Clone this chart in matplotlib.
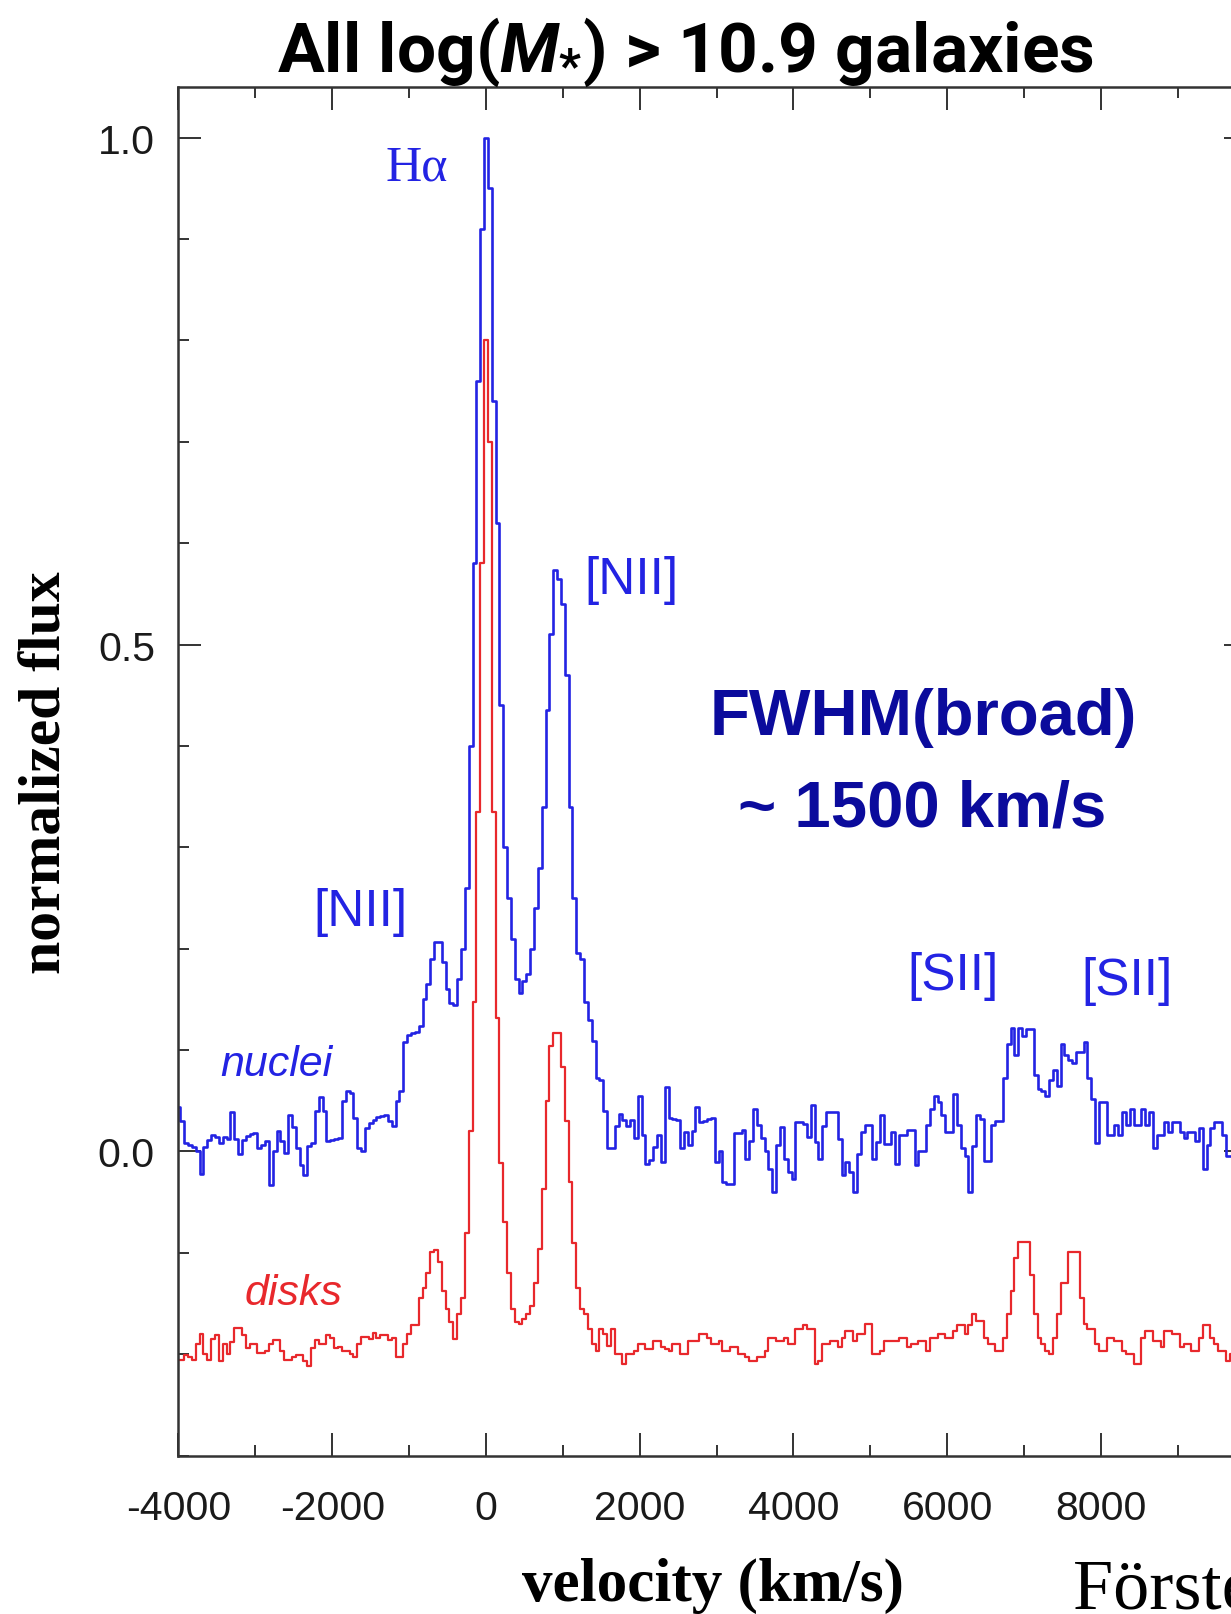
import numpy as np
import matplotlib.pyplot as plt
from matplotlib import font_manager
from matplotlib.ticker import MultipleLocator, FixedLocator, FormatStrFormatter

# stacked spectra, 50 km/s bins centred on -4000 ... 9900 km/s
velocity = np.arange(-4000, 9901, 50)

nuclei = np.array([
    0.044, 0.030, 0.008, 0.006, 0.004, 0.000, -0.022, 0.004, 0.011, 0.016,
    0.014, 0.008, 0.014, 0.012, 0.039, 0.012, -0.003, 0.011, 0.015, 0.017,
    0.018, 0.003, 0.006, 0.010, -0.033, 0.000, 0.020, 0.010, -0.002, 0.036,
    0.024, 0.003, -0.013, -0.023, 0.005, 0.008, 0.040, 0.054, 0.040, 0.010,
    0.011, 0.012, 0.013, 0.050, 0.060, 0.058, 0.033, 0.003, 0.000, 0.023,
    0.028, 0.031, 0.034, 0.035, 0.036, 0.030, 0.025, 0.050, 0.060, 0.108,
    0.115, 0.117, 0.118, 0.124, 0.150, 0.165, 0.190, 0.207, 0.207, 0.187,
    0.160, 0.146, 0.144, 0.170, 0.200, 0.260, 0.400, 0.580, 0.760, 0.910,
    1.000, 0.950, 0.740, 0.620, 0.440, 0.300, 0.250, 0.210, 0.170, 0.156,
    0.168, 0.175, 0.200, 0.240, 0.280, 0.340, 0.435, 0.510, 0.574, 0.565,
    0.540, 0.470, 0.340, 0.250, 0.196, 0.190, 0.147, 0.130, 0.109, 0.072,
    0.070, 0.040, 0.003, 0.003, 0.025, 0.037, 0.031, 0.025, 0.031, 0.013,
    0.055, 0.016, -0.012, -0.008, 0.004, 0.016, -0.010, 0.064, 0.033, 0.032,
    0.031, 0.003, 0.019, 0.006, 0.020, 0.044, 0.029, 0.030, 0.032, 0.033,
    -0.010, 0.000, -0.030, -0.032, -0.032, 0.018, 0.018, 0.021, -0.007, 0.010,
    0.042, 0.026, 0.013, 0.000, -0.017, -0.040, 0.006, 0.024, -0.007, -0.020,
    -0.027, 0.029, 0.029, 0.027, 0.014, 0.046, 0.009, -0.007, 0.025, 0.039,
    0.039, 0.039, 0.012, -0.023, -0.010, -0.020, -0.040, -0.003, 0.019, 0.026,
    0.026, -0.007, 0.009, 0.036, 0.007, 0.007, 0.019, -0.012, 0.016, 0.016,
    0.021, 0.021, -0.013, 0.000, 0.000, 0.026, 0.042, 0.055, 0.049, 0.036,
    0.019, 0.019, 0.057, 0.026, 0.003, -0.004, -0.040, 0.005, 0.036, 0.032,
    -0.009, -0.009, 0.026, 0.030, 0.030, 0.072, 0.106, 0.122, 0.095, 0.122,
    0.114, 0.121, 0.121, 0.075, 0.062, 0.060, 0.055, 0.070, 0.080, 0.065,
    0.106, 0.095, 0.090, 0.087, 0.098, 0.098, 0.108, 0.072, 0.052, 0.008,
    0.049, 0.049, 0.016, 0.016, 0.026, 0.016, 0.039, 0.026, 0.042, 0.026,
    0.026, 0.042, 0.026, 0.039, 0.003, 0.016, 0.016, 0.029, 0.019, 0.029,
    0.029, 0.019, 0.013, 0.019, 0.019, 0.010, 0.023, -0.017, 0.006, 0.023,
    0.029, 0.029, 0.016, -0.004, -0.004, 0.010, 0.020, 0.005, 0.000,
])

disks = np.array([
    -0.206, -0.206, -0.201, -0.203, -0.206, -0.190, -0.180, -0.200, -0.206, -0.185,
    -0.181, -0.207, -0.190, -0.200, -0.188, -0.174, -0.174, -0.181, -0.194, -0.190,
    -0.190, -0.199, -0.199, -0.197, -0.190, -0.186, -0.186, -0.197, -0.206, -0.206,
    -0.203, -0.201, -0.201, -0.207, -0.212, -0.194, -0.186, -0.190, -0.190, -0.181,
    -0.184, -0.194, -0.193, -0.197, -0.197, -0.200, -0.203, -0.190, -0.183, -0.183,
    -0.185, -0.179, -0.184, -0.181, -0.181, -0.186, -0.184, -0.203, -0.203, -0.190,
    -0.180, -0.171, -0.171, -0.145, -0.135, -0.120, -0.099, -0.097, -0.109, -0.138,
    -0.155, -0.168, -0.185, -0.160, -0.145, -0.080, 0.020, 0.147, 0.335, 0.580,
    0.800, 0.700, 0.335, 0.132, -0.011, -0.070, -0.120, -0.155, -0.168, -0.170,
    -0.165, -0.160, -0.152, -0.130, -0.096, -0.037, 0.050, 0.104, 0.117, 0.117,
    0.083, 0.030, -0.030, -0.090, -0.135, -0.155, -0.160, -0.175, -0.190, -0.197,
    -0.175, -0.180, -0.192, -0.175, -0.200, -0.200, -0.210, -0.200, -0.200, -0.197,
    -0.190, -0.190, -0.195, -0.195, -0.187, -0.187, -0.193, -0.195, -0.197, -0.190,
    -0.190, -0.200, -0.200, -0.187, -0.187, -0.187, -0.180, -0.180, -0.184, -0.190,
    -0.190, -0.187, -0.197, -0.197, -0.193, -0.193, -0.200, -0.200, -0.203, -0.207,
    -0.207, -0.203, -0.203, -0.197, -0.184, -0.184, -0.187, -0.187, -0.184, -0.190,
    -0.190, -0.175, -0.175, -0.171, -0.175, -0.175, -0.210, -0.207, -0.190, -0.190,
    -0.187, -0.187, -0.193, -0.184, -0.177, -0.177, -0.187, -0.180, -0.180, -0.170,
    -0.170, -0.200, -0.200, -0.197, -0.187, -0.187, -0.187, -0.187, -0.184, -0.184,
    -0.193, -0.190, -0.190, -0.187, -0.187, -0.197, -0.184, -0.184, -0.180, -0.180,
    -0.184, -0.184, -0.177, -0.171, -0.171, -0.180, -0.171, -0.160, -0.167, -0.167,
    -0.184, -0.190, -0.190, -0.197, -0.197, -0.184, -0.160, -0.138, -0.105, -0.089,
    -0.089, -0.089, -0.122, -0.160, -0.184, -0.190, -0.197, -0.200, -0.184, -0.160,
    -0.130, -0.130, -0.099, -0.099, -0.099, -0.145, -0.170, -0.175, -0.175, -0.190,
    -0.197, -0.197, -0.184, -0.184, -0.187, -0.187, -0.197, -0.200, -0.200, -0.210,
    -0.210, -0.184, -0.177, -0.177, -0.187, -0.187, -0.193, -0.177, -0.177, -0.180,
    -0.180, -0.193, -0.190, -0.190, -0.197, -0.197, -0.184, -0.171, -0.171, -0.184,
    -0.190, -0.197, -0.197, -0.207, -0.200, -0.195, -0.190, -0.190, -0.190,
])

# line labels: (text, velocity, flux)
line_labels = [
    ('[NII]', 1890, 0.564),
    ('[NII]', -1630, 0.237),
    ('[SII]', 6070, 0.174),
    ('[SII]', 8340, 0.169),
]

blue = '#2323e3'
red = '#e8282c'
navy = '#0b0b9c'
axis_grey = '#333333'

installed = {f.name for f in font_manager.fontManager.ttflist}
if 'Liberation Sans Narrow' in installed:
    title_font, title_size = 'Liberation Sans Narrow', 52
else:
    title_font, title_size = 'Roboto', 50

plt.rcParams['font.family'] = ['Liberation Sans', 'DejaVu Sans']
plt.rcParams['axes.unicode_minus'] = False
plt.rcParams['mathtext.fontset'] = 'custom'
plt.rcParams['mathtext.rm'] = title_font + ':bold'
plt.rcParams['mathtext.it'] = title_font + ':italic:bold'

fig = plt.figure(figsize=(12.31, 16.15), dpi=100)
ax = fig.add_axes([0.145, 0.0981, 0.868, 0.8474])

ax.step(velocity, nuclei, where='mid', color=blue, lw=1.9)
ax.step(velocity, disks, where='mid', color=red, lw=1.6)

ax.set_xlim(-4000, 9900)
ax.set_ylim(-0.3, 1.05)

ax.xaxis.set_major_locator(MultipleLocator(2000))
ax.xaxis.set_minor_locator(MultipleLocator(1000))
ax.xaxis.set_major_formatter(FormatStrFormatter('%d'))
ax.yaxis.set_major_locator(FixedLocator([0.0, 0.5, 1.0]))
ax.yaxis.set_minor_locator(MultipleLocator(0.1))
ax.yaxis.set_major_formatter(FormatStrFormatter('%.1f'))

ax.tick_params(which='both', direction='in', top=True, right=True,
               width=1.4, color=axis_grey, labelsize=29.5, labelcolor='#1a1a1a')
ax.tick_params(which='major', length=16.5)
ax.tick_params(which='minor', length=8)
ax.tick_params(axis='x', pad=24)
ax.tick_params(axis='y', pad=17)
for sp in ax.spines.values():
    sp.set_linewidth(1.8)
    sp.set_color(axis_grey)

# labels on the spectra
ax.text(-900, 0.971, 'H\u03b1', color=blue, fontsize=36, ha='center', va='center',
        family=['Liberation Serif', 'DejaVu Serif'])
for txt, v, f in line_labels:
    ax.text(v, f, txt, color=blue, fontsize=37, ha='center', va='center')
ax.text(-2730, 0.086, 'nuclei', color=blue, fontsize=31, style='italic',
        ha='center', va='center')
ax.text(-2500, -0.140, 'disks', color=red, fontsize=31, style='italic',
        ha='center', va='center')

ax.text(5685, 0.429, 'FWHM(broad)', color=navy, fontsize=47, fontweight='bold',
        ha='center', va='center')
ax.text(5670, 0.338, '~ 1500 km/s', color=navy, fontsize=47, fontweight='bold',
        ha='center', va='center')

fig.text(0.5565, 0.9554, r'All log($M_{*}$) > 10.9 galaxies', fontsize=title_size,
         fontweight='bold', family=[title_font, 'DejaVu Sans'], ha='center', va='baseline')

serif = ['Liberation Serif', 'DejaVu Serif']
fig.text(0.579, 0.018, 'velocity (km/s)', fontsize=44, fontweight='bold',
         family=serif, ha='center', va='center')
fig.text(0.0374, 0.5217, 'normalized flux', fontsize=43, fontweight='bold',
         family=serif, rotation=90, ha='center', va='center')
fig.text(0.8717, 0.0037, 'Förster Schreiber', fontsize=52, family=serif,
         ha='left', va='baseline')

fig.savefig('out.png', dpi=100)
